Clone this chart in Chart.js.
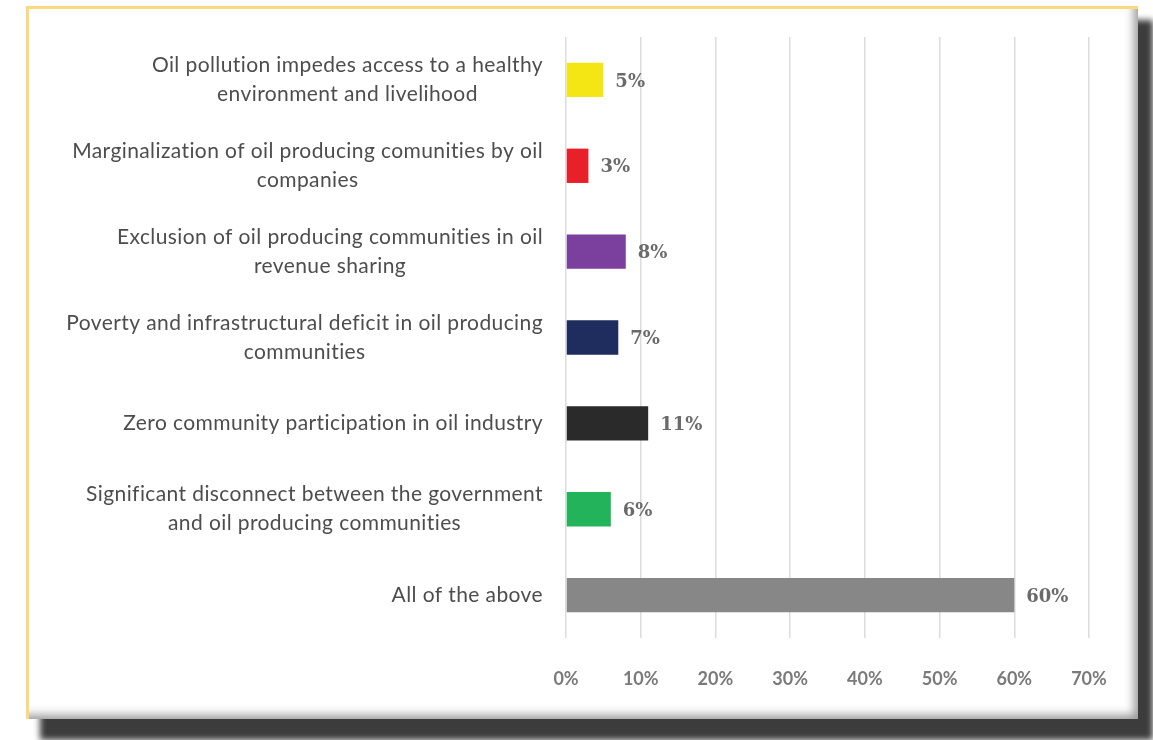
<!DOCTYPE html>
<html>
<head>
<meta charset="utf-8">
<script src="https://cdn.jsdelivr.net/npm/chart.js@4"></script>
<style>
  html, body { margin: 0; padding: 0; background: #fff; width: 1153px; height: 740px; overflow: hidden; }
  .shadow { position: absolute; left: 40px; top: 20px; width: 1113px; height: 720px; background: #3c3c3c; filter: blur(3px); }
  .frame { position: absolute; left: 26px; top: 6px; width: 1109px; height: 710px; background: #fff;
           border-top: 3px solid #fcd97c; border-left: 3px solid #fcd97c;
           box-shadow: inset -12px -12px 10px -8px rgba(70,70,70,0.55); }
  .wrap { position: absolute; left: 0; top: 0; width: 1153px; height: 740px; }
</style>
</head>
<body>
<div class="shadow"></div>
<div class="frame"></div>
<div class="wrap"><canvas id="chart"></canvas></div>
<script>
const categories = [
    ["Oil pollution impedes access to a healthy", "environment and livelihood"],
    ["Marginalization of oil producing comunities by oil", "companies"],
    ["Exclusion of oil producing communities in oil", "revenue sharing"],
    ["Poverty and infrastructural deficit in oil producing", "communities"],
    ["Zero community participation in oil industry"],
    ["Significant disconnect between the government", "and oil producing communities"],
    ["All of the above"]
];
const values = [5, 3, 8, 7, 11, 6, 60];
const barColors = ["#f4e614", "#e8202a", "#7b3f9d", "#1f2c5e", "#2a2a2a", "#22b35b", "#878787"];
const xTicks = [0, 10, 20, 30, 40, 50, 60, 70];

const labelPlugin = {
    id: "labels",
    afterDatasetsDraw(chart) {
        const ctx = chart.ctx;
        const y = chart.scales.y;
        const x = chart.scales.x;
        ctx.save();
        // category labels: block right aligned, lines centered
        ctx.font = "21px Lato, 'Open Sans', sans-serif";
        ctx.letterSpacing = "0.4px";
        ctx.fillStyle = "#4d4d4d";
        ctx.textBaseline = "middle";
        ctx.textAlign = "center";
        const right = 543, lineH = 29;
        categories.forEach((lines, i) => {
            const cy = y.getPixelForValue(i);
            const w = Math.max(...lines.map(l => ctx.measureText(l).width));
            const cx = right - w / 2;
            lines.forEach((l, j) => {
                ctx.fillText(l, cx, cy + (j - (lines.length - 1) / 2) * lineH);
            });
        });
        // value labels
        ctx.letterSpacing = "0px";
        ctx.font = "bold 18px 'DejaVu Serif', serif";
        ctx.fillStyle = "#6a6a6a";
        ctx.textAlign = "left";
        values.forEach((v, i) => {
            ctx.fillText(v + "%", x.getPixelForValue(v) + 12, y.getPixelForValue(i) + 2);
        });
        ctx.restore();
    }
};

new Chart(document.getElementById("chart"), {
    type: "bar",
    data: {
        labels: categories,
        datasets: [{
            data: values,
            backgroundColor: barColors,
            barPercentage: 0.4,
            categoryPercentage: 1
        }]
    },
    options: {
        indexAxis: "y",
        responsive: true,
        maintainAspectRatio: false,
        animation: false,
        layout: { padding: { left: 566, top: 37, right: 64, bottom: 0 } },
        plugins: { legend: { display: false }, tooltip: { enabled: false } },
        scales: {
            y: {
                ticks: { display: false },
                grid: { display: false },
                border: { display: false },
                afterFit: s => { s.width = 0; }
            },
            x: {
                min: 0,
                max: 70,
                afterBuildTicks: s => { s.ticks = xTicks.map(v => ({ value: v })); },
                ticks: {
                    callback: v => v + "%",
                    color: "#7a7a7a",
                    font: { family: "Lato, 'Open Sans', sans-serif", size: 18, weight: "bold" },
                    padding: 30,
                    maxRotation: 0
                },
                grid: { color: "#dcdcdc", lineWidth: 1.5, drawTicks: false },
                border: { display: false },
                afterFit: s => { s.height = 102; }
            }
        }
    },
    plugins: [labelPlugin]
});
</script>
</body>
</html>
